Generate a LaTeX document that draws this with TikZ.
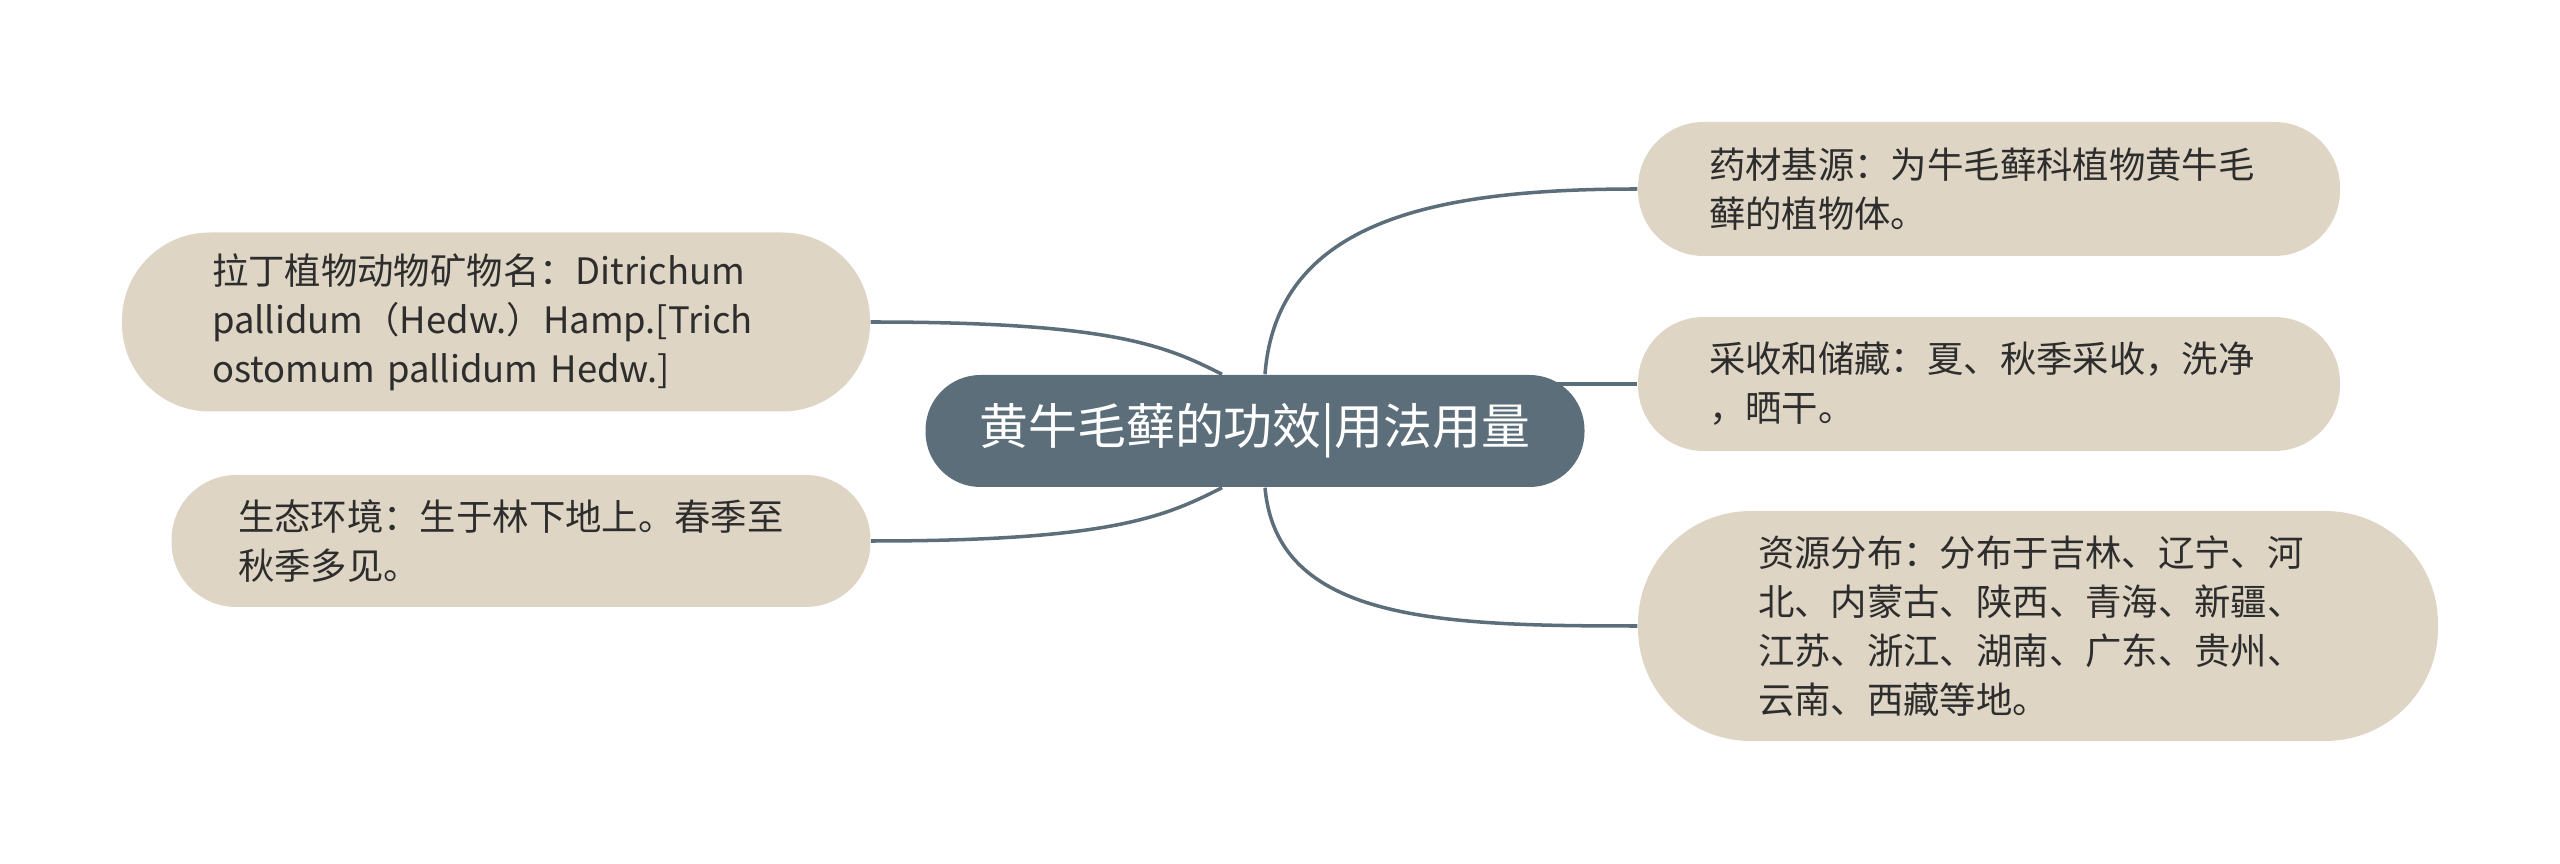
\documentclass[tikz,border=0pt]{standalone}
\usepackage{fontspec}
\newfontfamily\cjk{Noto Sans CJK SC}
\usepackage{tikz}
\usetikzlibrary{positioning}
\usetikzlibrary{backgrounds}
\definecolor{slate}{RGB}{92,110,122}
\definecolor{sand}{RGB}{222,213,197}
\definecolor{ink}{RGB}{45,45,45}
\tikzset{
topic/.style={fill=slate,text=white,rounded corners=0.55cm,minimum width=6.59cm,minimum height=1.12cm,inner sep=0pt,font=\cjk\fontsize{13.9}{16}\selectfont},
leaf/.style={fill=sand,text=ink,align=left,inner sep=0pt,minimum height=#1,rounded corners=0.49*#1,font=\cjk\fontsize{10.35}{13.9}\selectfont},
link/.style={draw=slate,line width=1pt}
}

\begin{document}
\begin{tikzpicture}[x=1cm,y=-1cm]
\useasboundingbox (0,0) rectangle (25.6,8.64);
\node[topic] (c) at (12.55,4.31) {黄牛毛藓的功效|用法用量};
\node[leaf=1.79cm,minimum width=7.48cm,text width=5.68cm] (latin) at (4.96,3.22) {拉丁植物动物矿物名：Ditrichum\\pallidum（Hedw.）Hamp.[Trich\\ostomum pallidum Hedw.]};
\node[leaf=1.32cm,minimum width=6.99cm,text width=5.66cm] (habitat) at (5.21,5.41) {生态环境：生于林下地上。春季至\\秋季多见。};
\node[leaf=1.34cm,minimum width=7.02cm,text width=5.6cm] (source) at (19.89,1.89) {药材基源：为牛毛藓科植物黄牛毛\\藓的植物体。};
\node[leaf=1.34cm,minimum width=7.02cm,text width=5.6cm] (harvest) at (19.89,3.84) {采收和储藏：夏、秋季采收，洗净\\，晒干。};
\node[leaf=2.30cm,minimum width=8.00cm,text width=5.6cm] (region) at (20.38,6.26) {资源分布：分布于吉林、辽宁、河\\北、内蒙古、陕西、青海、新疆、\\江苏、浙江、湖南、广东、贵州、\\云南、西藏等地。};
\begin{scope}[on background layer]
\draw[link] (latin.east) .. controls +(2.4,0) and +(-0.57,-0.29) .. ([xshift=-0.33cm]c.north);
\draw[link] (habitat.east) .. controls +(2.4,0) and +(-0.57,0.29) .. ([xshift=-0.33cm]c.south);
\draw[link] ([xshift=0.1cm]c.north) .. controls +(0.12,-1.55) and +(-2.0,0) .. (source.west);
\draw[link] (c.center |- harvest.west) -- (harvest.west);
\draw[link] ([xshift=0.1cm]c.south) .. controls +(0.12,1.33) and +(-2.0,0) .. (region.west);
\end{scope}
\end{tikzpicture}
\end{document}
